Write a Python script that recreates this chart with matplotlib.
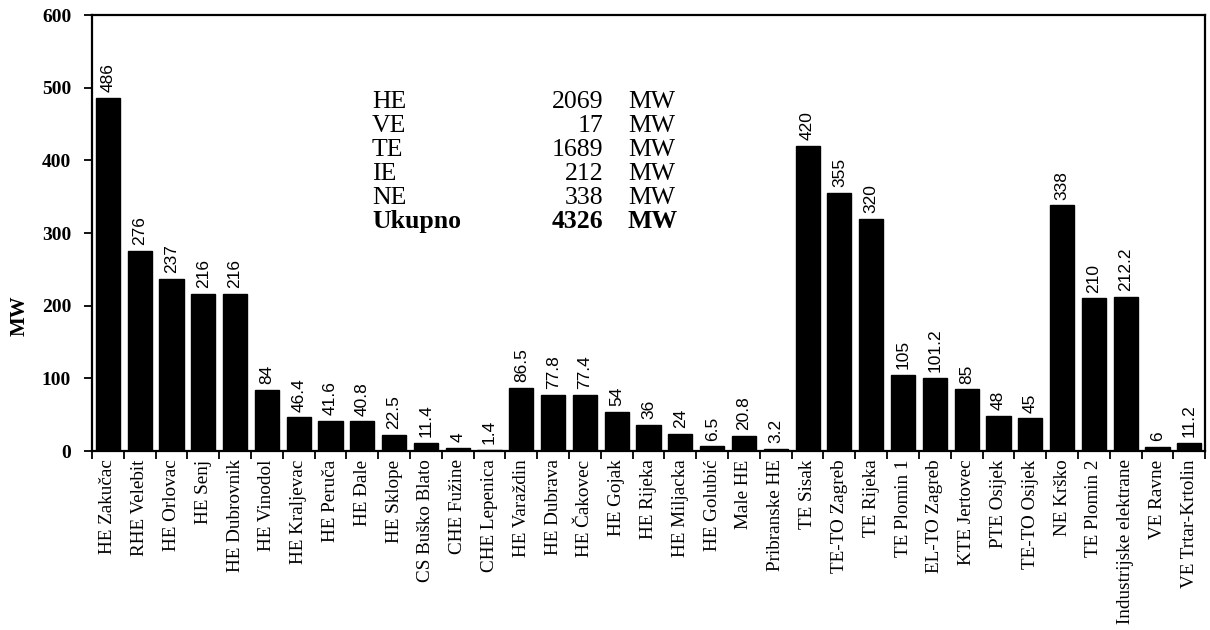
import matplotlib
matplotlib.use("Agg")
import matplotlib.pyplot as plt
import numpy as np

categories = ["HE Zakučac", "RHE Velebit", "HE Orlovac", "HE Senj", "HE Dubrovnik",
              "HE Vinodol", "HE Kraljevac", "HE Peruča", "HE Đale", "HE Sklope",
              "CS Buško Blato", "CHE Fužine", "CHE Lepenica", "HE Varaždin", "HE Dubrava",
              "HE Čakovec", "HE Gojak", "HE Rijeka", "HE Miljacka", "HE Golubić",
              "Male HE", "Pribranske HE", "TE Sisak", "TE-TO Zagreb", "TE Rijeka",
              "TE Plomin 1", "EL-TO Zagreb", "KTE Jertovec", "PTE Osijek", "TE-TO Osijek",
              "NE Krško", "TE Plomin 2", "Industrijske elektrane", "VE Ravne", "VE Trtar-Krtolin"]
values = [486, 276, 237, 216, 216, 84, 46.4, 41.6, 40.8, 22.5,
          11.4, 4, 1.4, 86.5, 77.8, 77.4, 54, 36, 24, 6.5,
          20.8, 3.2, 420, 355, 320, 105, 101.2, 85, 48, 45,
          338, 210, 212.2, 6, 11.2]
labels = ["486", "276", "237", "216", "216", "84", "46.4", "41.6", "40.8", "22.5",
          "11.4", "4", "1.4", "86.5", "77.8", "77.4", "54", "36", "24", "6.5",
          "20.8", "3.2", "420", "355", "320", "105", "101.2", "85", "48", "45",
          "338", "210", "212.2", "6", "11.2"]

summary_names = ["HE", "VE", "TE", "IE", "NE", "Ukupno"]
summary_values = ["2069", "17", "1689", "212", "338", "4326"]
summary_unit = "MW"

serif = "Liberation Serif"
sans = "Liberation Sans"

fig = plt.figure(figsize=(12.1, 6.3), dpi=100)
ax = fig.add_axes([0.076, 0.284, 0.920, 0.692])

x = np.arange(len(categories))
ax.bar(x, values, width=0.76, color="black", edgecolor="black", zorder=2)

for xi, v, lab in zip(x, values, labels):
    ax.text(xi, v + 8, lab, rotation=90, ha="center", va="bottom",
            fontsize=12.5, family=sans, color="black")

ax.set_xlim(-0.5, len(categories) - 0.5)
ax.set_ylim(0, 600)
ax.set_yticks([0, 100, 200, 300, 400, 500, 600])
ax.set_yticklabels(["0", "100", "200", "300", "400", "500", "600"],
                   fontsize=14, family=serif, fontweight="bold")

ax.set_xticks(np.arange(len(categories) + 1) - 0.5)
ax.set_xticklabels([])
ax.set_xticks(x, minor=True)
ax.set_xticklabels(categories, minor=True, rotation=90, fontsize=13.8, family=serif)
ax.tick_params(axis="x", which="major", direction="out", length=6, width=1.3)
ax.tick_params(axis="x", which="minor", length=0, pad=6)
ax.tick_params(axis="y", direction="out", length=6, width=1.3, pad=9)

for s in ax.spines.values():
    s.set_linewidth(1.6)

# y label at fixed figure position
fig.text(20 / 1210, 1 - 316 / 630, "MW", rotation=90, fontsize=15, family=serif,
         fontweight="bold", ha="center", va="center")

# summary block (figure pixel positions)
W, H = 1210, 630
base_y = [108, 132, 156, 180, 204, 228]
for name, val, by in zip(summary_names, summary_values, base_y):
    wt = "bold" if name == "Ukupno" else "normal"
    fy = 1 - by / H
    fig.text(372 / W, fy, name, fontsize=18.5, family=serif, fontweight=wt, va="baseline", ha="left")
    fig.text(603 / W, fy, val, fontsize=18.5, family=serif, fontweight=wt, va="baseline", ha="right")
    fig.text(628 / W, fy, summary_unit, fontsize=18.5, family=serif, fontweight=wt, va="baseline", ha="left")

fig.savefig("out.png", dpi=100)
